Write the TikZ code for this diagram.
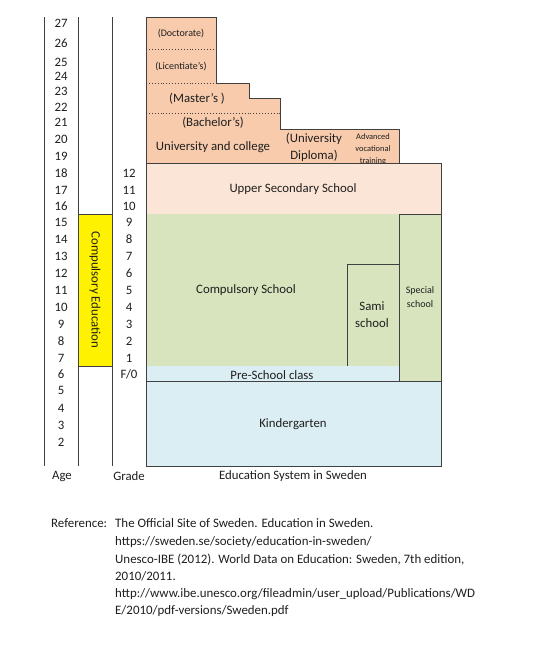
\documentclass[tikz,border=0pt]{standalone}
\usepackage{fontspec}
\setmainfont{Carlito}
\definecolor{linec}{HTML}{404040}
\definecolor{txt}{HTML}{1F1F1F}
\definecolor{uni}{HTML}{F8CBAD}
\definecolor{upsec}{HTML}{FBE5D6}
\definecolor{comp}{HTML}{D7E4BD}
\definecolor{pre}{HTML}{DBEEF4}
\begin{document}
\begin{tikzpicture}[x=1pt,y=-1pt,
  bord/.style={draw=linec,line width=0.9pt},
  dots/.style={draw=linec,line width=0.9pt,dotted},
  lbl/.style={text=txt,font=\fontsize{12.8}{14}\selectfont,inner sep=0pt,anchor=center},
  sml/.style={text=txt,font=\fontsize{10}{11}\selectfont,inner sep=0pt,anchor=center},
  tiny/.style={text=txt,font=\fontsize{8.4}{9}\selectfont,inner sep=0pt,anchor=center},
  reftxt/.style={text=txt,font=\fontsize{12.9}{14}\selectfont,inner sep=0pt,anchor=base west}]
\useasboundingbox (0,0) rectangle (549,654);
\fill[white] (0,0) rectangle (549,654);
% columns
\draw[bord] (44,17) -- (44,466);
\draw[bord] (78,17) -- (78,466);
\draw[bord] (112,17) -- (112,466);
% university block
\fill[uni] (146,17) -- (216,17) -- (216,83) -- (249,83) -- (249,98) -- (280,98) -- (280,163) -- (146,163) -- cycle;
\draw[bord] (280,129) -- (280,98) -- (249,98) -- (249,83) -- (216,83) -- (216,17) -- (146,17) -- (146,163);
\draw[dots] (146,49) -- (216,49);
\draw[dots] (146,83) -- (216,83);
\draw[dots] (146,113) -- (280,113);
\draw[dots] (280,129) -- (280,163);
\node[sml] (doc) at (181,34) {(Doctorate)};
\node[sml] (lic) at (181,67) {(Licentiate's)};
\node[lbl] (mas) at (197,99) {(Master's )};
\node[lbl] (bac) at (213,123) {(Bachelor's)};
\node[lbl] (uac) at (213,147) {University and college};
% diploma
\fill[uni] (280,129) rectangle (347,163);
\draw[bord] (280,129) -- (347,129) -- (347,163);
\node[lbl] (dip1) at (314,139) {(University};
\node[lbl] (dip2) at (314,156) {Diploma)};
% advanced vocational
\fill[uni] (347,129) rectangle (399,163);
\draw[bord] (347,129) -- (399,129) -- (399,163);
\node[tiny] (adv1) at (373,137) {Advanced};
\node[tiny] (adv2) at (373,149) {vocational};
\node[tiny] (adv3) at (373,161.5) {training};
% upper secondary
\fill[upsec] (146,163) rectangle (441,214);
\draw[bord] (146,163) rectangle (441,214);
\node[lbl] (ups) at (293,189) {Upper Secondary School};
% compulsory school
\fill[comp] (146,214) rectangle (399,366);
\draw[bord] (146,214) -- (146,366);
\draw[dots] (146,366) -- (347,366);
\node[lbl] (cs) at (246,290) {Compulsory School};
% sami
\draw[bord] (347,366) -- (347,264) -- (399,264);
\draw[bord] (347,366) -- (399,366);
\node[lbl] (sami1) at (372,306) {Sami};
\node[lbl] (sami2) at (372,323) {school};
% special
\fill[comp] (399,214) rectangle (441,381);
\draw[bord] (399,214) rectangle (441,381);
\node[sml] (sp1) at (420,291) {Special};
\node[sml] (sp2) at (420,304) {school};
% pre-school
\fill[pre] (146,366) rectangle (399,381);
\draw[bord] (146,366) -- (146,381);
\node[lbl] (psc) at (272,375) {Pre-School class};
% kindergarten
\fill[pre] (146,381) rectangle (441,466);
\draw[bord] (146,381) rectangle (441,466);
\node[lbl] (kg) at (293,424) {Kindergarten};
% compulsory education bar
\fill[yellow] (78,214) rectangle (112,366);
\draw[bord] (78,214) rectangle (112,366);
\node[lbl,rotate=-90] (ce) at (95,290) {Compulsory Education};
% ages
\foreach \a/\y in {27/23,26/43,25/62,24/76,23/91,22/107,21/122,20/139,19/156,18/173,17/190,16/206,15/222,14/239,13/256,12/273,11/290,10/307,9/324,8/341,7/358,6/374,5/390,4/408,3/425,2/442}
  \node[lbl] (age\a) at (61,\y) {\a};
% grades
\foreach \g/\y in {12/173,11/190,10/206,9/222,8/239,7/256,6/273,5/290,4/307,3/324,2/341,1/358}
  \node[lbl] (gr\g) at (129,\y) {\g};
\node[lbl] (gr0) at (129,374) {F/0};
% axis labels
\node[lbl] (agel) at (62,476) {Age};
\node[lbl] (grl) at (129,476) {Grade};
\node[lbl] (esl) at (293,476) {Education System in Sweden};
% references
\node[reftxt] (r0) at (51,527) {Reference:};
\node[reftxt] (r1) at (115,527) {The Official Site of Sweden. Education in Sweden.};
\node[reftxt] (r2) at (115,545) {https://sweden.se/society/education-in-sweden/};
\node[reftxt] (r3) at (115,563) {Unesco-IBE (2012). World Data on Education: Sweden, 7th edition,};
\node[reftxt] (r4) at (115,580) {2010/2011.};
\node[reftxt] (r5) at (115,597) {http://www.ibe.unesco.org/fileadmin/user\_upload/Publications/WD};
\node[reftxt] (r6) at (115,614) {E/2010/pdf-versions/Sweden.pdf};
\end{tikzpicture}
\end{document}
